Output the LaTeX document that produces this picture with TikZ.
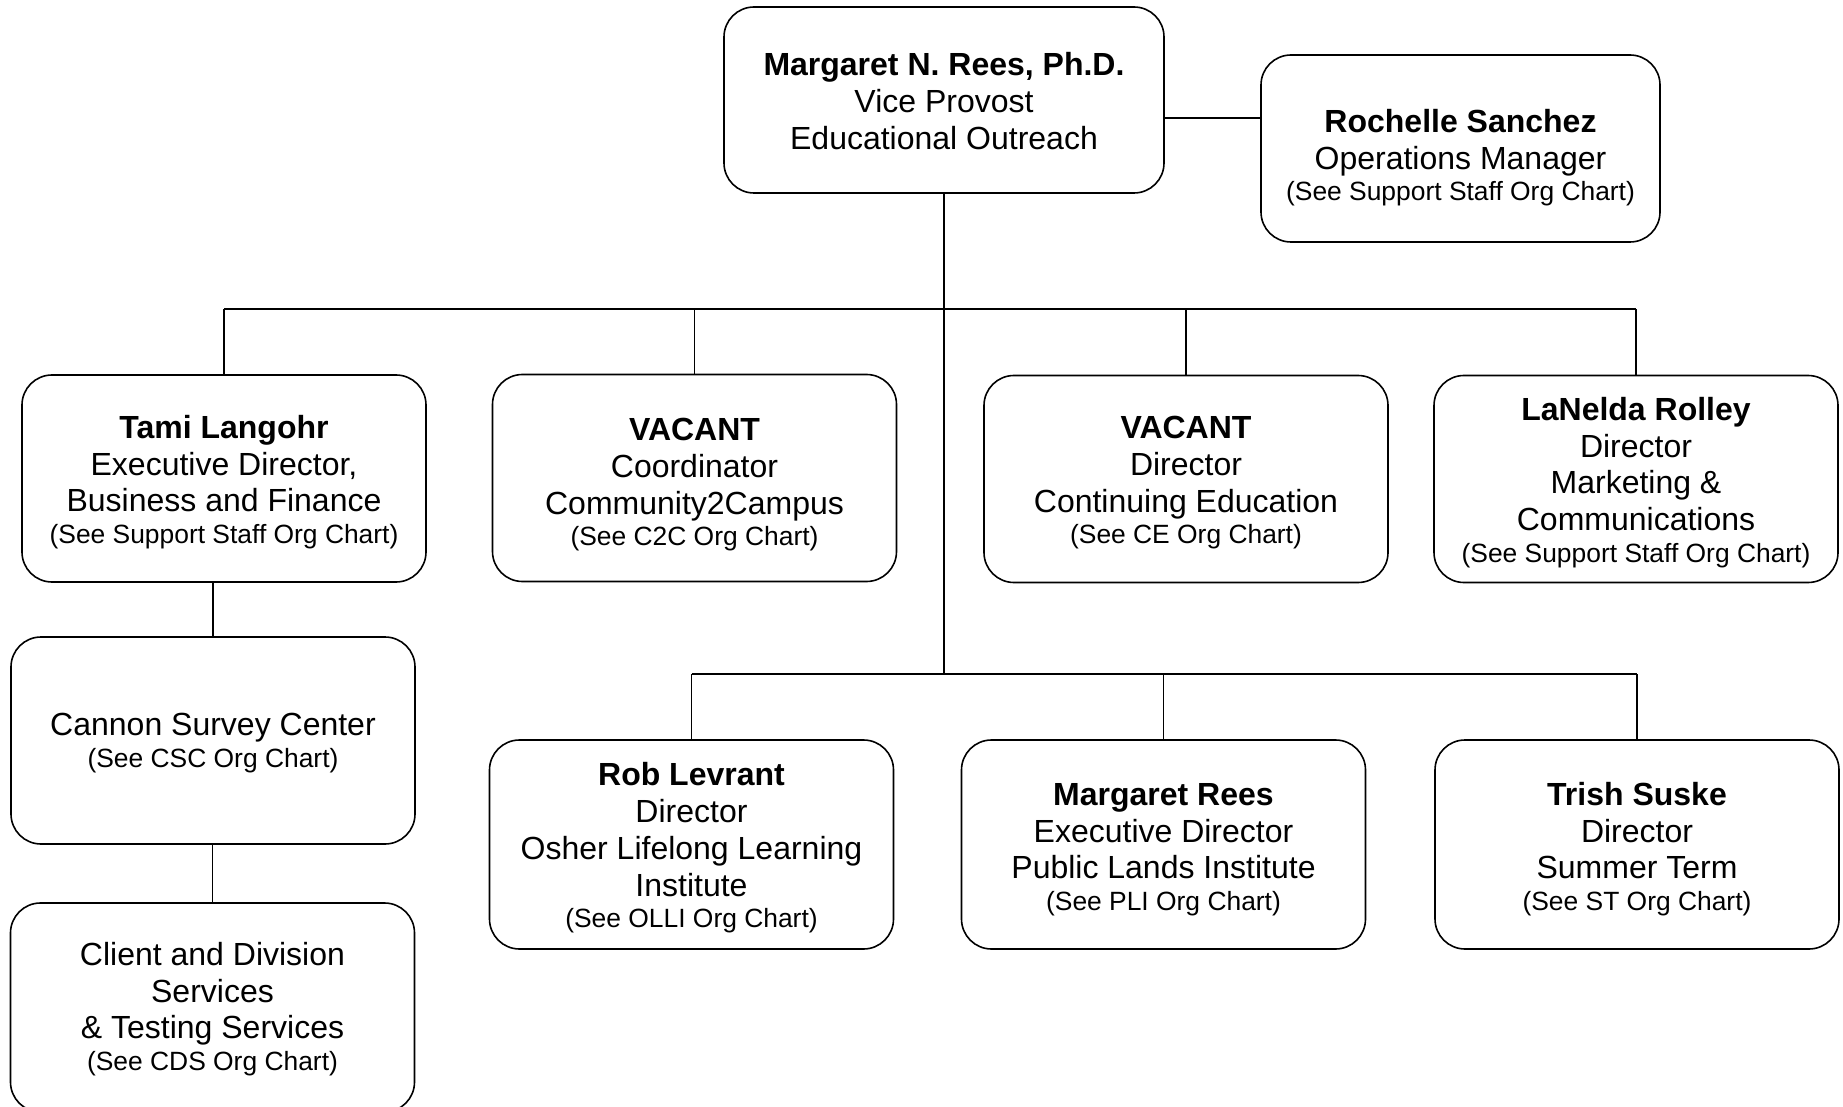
\documentclass[tikz,border=0pt]{standalone}
\usepackage{fontspec}
\setmainfont{Liberation Sans}
\newcommand{\seeline}{\fontsize{13.2}{15.2}\selectfont}
\newcommand{\tstrut}[1]{\rule{0pt}{#1}}
\begin{document}
\begin{tikzpicture}[x=0.5pt,y=-0.5pt,
  orgbox/.style={draw=black, line width=0.8pt, rounded corners=15pt, align=center,
    inner sep=0pt, minimum width=202pt, minimum height=103.5pt,
    font=\fontsize{16}{18.4}\selectfont},
  link/.style={draw=black, line width=0.8pt}]
\useasboundingbox (0,0) rectangle (1843,1107);
\clip (0,0) rectangle (1843,1107);
\fill[white] (0,0) rectangle (1843,1107);

\node[orgbox, minimum width=220pt, minimum height=93pt] (top) at (944,100)
  {\tstrut{12.8pt}\textbf{Margaret N. Rees, Ph.D.}\\Vice Provost\\Educational Outreach};
\node[orgbox, minimum width=199.5pt, minimum height=93.5pt] (roch) at (1460.5,148.5)
  {\tstrut{21pt}\textbf{Rochelle Sanchez}\\Operations Manager\\[-2.7pt]{\seeline (See Support Staff Org Chart)}};

\node[orgbox] (tami) at (224,478.5)
  {\tstrut{15pt}\textbf{Tami Langohr}\\Executive Director,\\Business and Finance\\[-2.7pt]{\seeline (See Support Staff Org Chart)}};
\node[orgbox] (c2c) at (694.5,478)
  {\tstrut{18pt}\textbf{VACANT}\\Coordinator\\Community2Campus\\[-2.7pt]{\seeline (See C2C Org Chart)}};
\node[orgbox] (ce) at (1186,479)
  {\tstrut{15pt}\textbf{VACANT}\\Director\\Continuing Education\\[-2.7pt]{\seeline (See CE Org Chart)}};
\node[orgbox] (lan) at (1636,479)
  {\tstrut{15pt}\textbf{LaNelda Rolley}\\Director\\Marketing \&\\Communications\\[-2.7pt]{\seeline (See Support Staff Org Chart)}};

\node[orgbox] (csc) at (213,740.5)
  {\tstrut{13.6pt}Cannon Survey Center\\[-2.7pt]{\seeline (See CSC Org Chart)}};
\node[orgbox, minimum height=104.5pt] (cds) at (212.5,1007.5)
  {\tstrut{13pt}Client and Division\\Services\\\& Testing Services\\[-2.7pt]{\seeline (See CDS Org Chart)}};

\node[orgbox, minimum height=104.5pt] (rob) at (691.5,844.5)
  {\tstrut{15pt}\textbf{Rob Levrant}\\Director\\Osher Lifelong Learning\\Institute\\[-2.7pt]{\seeline (See OLLI Org Chart)}};
\node[orgbox, minimum height=104.5pt] (pli) at (1163.5,844.5)
  {\tstrut{16pt}\textbf{Margaret Rees}\\Executive Director\\Public Lands Institute\\[-2.7pt]{\seeline (See PLI Org Chart)}};
\node[orgbox, minimum height=104.5pt] (trish) at (1637,844.5)
  {\tstrut{16pt}\textbf{Trish Suske}\\Director\\Summer Term\\[-2.7pt]{\seeline (See ST Org Chart)}};

% connectors
\path (top.east) ++(0,18) coordinate (rj);
\draw[link] (rj) -- (rj -| roch.west);

\coordinate (bus1) at (944,309);
\coordinate (bus2) at (944,674);
\draw[link] (top.south) -- (bus2);
\draw[link] (tami.north |- bus1) -- (lan.north |- bus1);
\foreach \n in {tami,c2c,ce,lan} \draw[link] (\n.north) -- (\n.north |- bus1);
\draw[link] (rob.north |- bus2) -- (trish.north |- bus2);
\foreach \n in {rob,pli,trish} \draw[link] (\n.north) -- (\n.north |- bus2);

\draw[link] (tami.south -| csc.north) -- (csc.north);
\draw[link] (csc.south -| cds.north) -- (cds.north);
\end{tikzpicture}
\end{document}
